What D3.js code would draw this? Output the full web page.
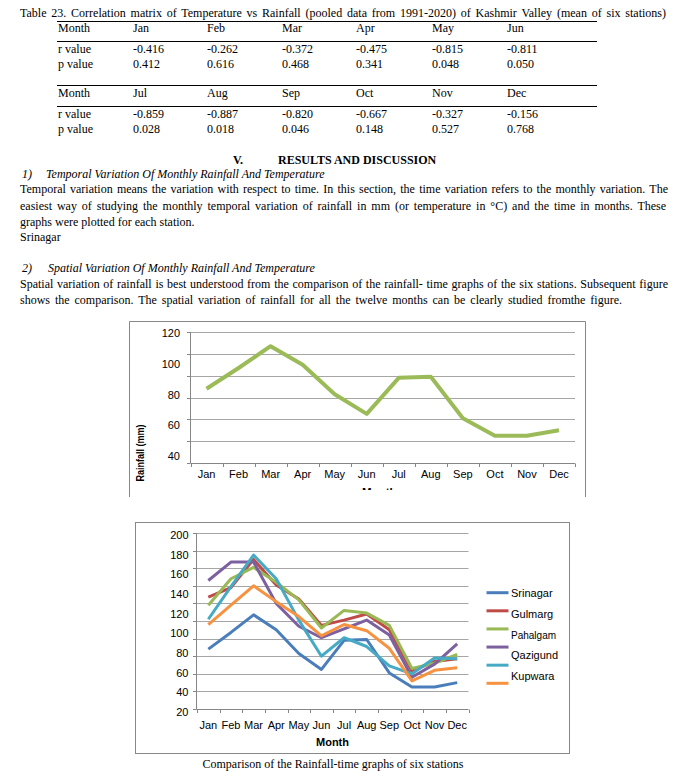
<!DOCTYPE html>
<html><head><meta charset="utf-8">
<script src="https://cdn.jsdelivr.net/npm/d3@7/dist/d3.min.js"></script>
<style>
html,body{margin:0;padding:0;background:#fff;}
svg text{font-family:"Liberation Serif","Times New Roman",serif;}
.sans{font-family:"Liberation Sans",Arial,sans-serif !important;}
</style>
</head><body>
<svg id="page" width="676" height="776"></svg>
<script>
// ---------- DATA ----------
const months = ["Jan","Feb","Mar","Apr","May","Jun","Jul","Aug","Sep","Oct","Nov","Dec"];
const tableMonths1 = ["Jan","Feb","Mar","Apr","May","Jun"];
const tableMonths2 = ["Jul","Aug","Sep","Oct","Nov","Dec"];
const rValues1 = ["-0.416","-0.262","-0.372","-0.475","-0.815","-0.811"];
const pValues1 = ["0.412","0.616","0.468","0.341","0.048","0.050"];
const rValues2 = ["-0.859","-0.887","-0.820","-0.667","-0.327","-0.156"];
const pValues2 = ["0.028","0.018","0.046","0.148","0.527","0.768"];

const srinagar = [88, 107, 127, 110, 83, 65, 98, 99, 61, 45, 45, 50];
const gulmarg  = [147, 158, 190, 161, 145, 115, 121, 128, 110, 63, 74, 77];
const pahalgam = [138, 168, 181, 164, 144, 112, 132, 129, 115, 66, 72, 82];
const qazigund = [166, 187, 187, 140, 114, 101, 111, 121, 104, 56, 71, 94];
const kupwara  = [122, 159, 195, 168, 121, 80, 101, 91, 69, 60, 78, 77];
const series6  = [116, 138, 160, 142, 125, 103, 116, 109, 89, 52, 64, 67];

const legendLabels = ["Srinagar","Gulmarg","Pahalgam","Qazigund","Kupwara"];
const seriesColors = ["#4A7EBB","#BE4B48","#98B954","#7D60A0","#46AAC5","#F69240"];

const chart1TickLabels = [40, 60, 80, 100, 120];
const chart1Grid = [20, 40, 60, 80, 100, 120, 140];
const chart2TickLabels = [20, 40, 60, 80, 100, 120, 140, 160, 180, 200];
const chart2Grid = [20, 40, 60, 80, 100, 120, 140, 160, 180, 200, 220];

// ---------- PAGE ----------
const svg = d3.select("#page");

function fit(el, width){
  const natural = el.node().getComputedTextLength();
  const t = el.text();
  const spaces = (t.match(/ /g) || []).length;
  if (spaces > 0) el.attr("word-spacing", ((width - natural) / spaces).toFixed(3));
  return el;
}

// Table
fit(svg.append("text").attr("x",20).attr("y",17).attr("font-size",12)
  .text("Table 23. Correlation matrix of Temperature vs Rainfall (pooled data from 1991-2020) of Kashmir Valley (mean of six stations)"), 646);

const colX = [58,133,207,282,356,432,507];
function tableBlock(topRule, headY, midRule, rY, pY, mths, rv, pv){
  svg.append("line").attr("x1",57).attr("x2",597).attr("y1",topRule).attr("y2",topRule).attr("stroke","#000").attr("stroke-width",1);
  svg.append("line").attr("x1",57).attr("x2",597).attr("y1",midRule).attr("y2",midRule).attr("stroke","#000").attr("stroke-width",1);
  const rows = [["Month"].concat(mths),["r value"].concat(rv),["p value"].concat(pv)];
  const ys = [headY,rY,pY];
  rows.forEach((row,ri)=>{
    row.forEach((t,ci)=>{
      svg.append("text").attr("x",colX[ci]).attr("y",ys[ri]).attr("font-size",12).text(t);
    });
  });
}
tableBlock(21.5, 32, 41.5, 53, 68, tableMonths1, rValues1, pValues1);
tableBlock(85.5, 97, 106.5, 118, 133, tableMonths2, rValues2, pValues2);

svg.append("text").attr("x",233).attr("y",164).attr("font-size",12).attr("font-weight","bold").text("V.");
svg.append("text").attr("x",278).attr("y",164).attr("font-size",12).attr("font-weight","bold").text("RESULTS AND DISCUSSION");

svg.append("text").attr("x",22).attr("y",178).attr("font-size",12).attr("font-style","italic").text("1)");
svg.append("text").attr("x",46).attr("y",178).attr("font-size",12).attr("font-style","italic").text("Temporal Variation Of Monthly Rainfall And Temperature");
function para(y, t, width){
  const el = svg.append("text").attr("x",20).attr("y",y).attr("font-size",12).text(t);
  if (width) fit(el, width);
}
para(193, "Temporal variation means the variation with respect to time. In this section, the time variation refers to the monthly variation. The", 648);
para(210, "easiest way of studying the monthly temporal variation of rainfall in mm (or temperature in \u00B0C) and the time in  months. These", 648);
para(226, "graphs were plotted for each station.", 0);
para(241, "Srinagar", 0);
svg.append("text").attr("x",22).attr("y",272).attr("font-size",12).attr("font-style","italic").text("2)");
svg.append("text").attr("x",48).attr("y",272).attr("font-size",12).attr("font-style","italic").text("Spatial Variation Of Monthly Rainfall And Temperature");
para(288, "Spatial variation of rainfall is best understood from the comparison of the rainfall- time graphs of the six stations. Subsequent figure", 648);
para(304, "shows the comparison. The spatial variation of rainfall for all the twelve months can be clearly studied fromthe figure.", 602);

// ---------- CHART 1 ----------
const c1 = svg.append("g");
const frameCol = "#888";
c1.append("path").attr("d","M129.5,497 V321.5 H585.5 V497").attr("fill","none").attr("stroke",frameCol).attr("stroke-width",1);

const x1 = d3.scaleBand().domain(months).range([190.5,575]);
const y1 = d3.scaleLinear().domain([20,140]).range([463,332]);
const y1Lab = d3.scaleLinear().domain([40,120]).range([456,333]);

c1.selectAll(".g1").data(chart1Grid.slice(1)).enter().append("line")
  .attr("x1",190.5).attr("x2",575).attr("y1",d=>Math.round(y1(d))+0.5).attr("y2",d=>Math.round(y1(d))+0.5)
  .attr("stroke","#a6a6a6").attr("stroke-width",1);
c1.append("line").attr("x1",190.5).attr("x2",190.5).attr("y1",332).attr("y2",463).attr("stroke","#868686");
c1.selectAll(".t1").data(chart1Grid).enter().append("line")
  .attr("x1",187).attr("x2",190.5).attr("y1",d=>Math.round(y1(d))+0.5).attr("y2",d=>Math.round(y1(d))+0.5).attr("stroke","#868686");
c1.append("line").attr("x1",190.5).attr("x2",575).attr("y1",463.5).attr("y2",463.5).attr("stroke","#868686");
d3.range(months.length+1).forEach(i=>{
  const xx = Math.round(x1.range()[0] + i*x1.step())+0.5;
  c1.append("line").attr("x1",xx).attr("x2",xx).attr("y1",463.5).attr("y2",467).attr("stroke","#868686");
});
c1.selectAll(".yl1").data(chart1TickLabels).enter().append("text").attr("class","sans")
  .attr("x",180).attr("y",d=>y1Lab(d)+4).attr("text-anchor","end").attr("font-size",11).attr("fill","#000").text(d=>d);
c1.selectAll(".xl1").data(months).enter().append("text").attr("class","sans")
  .attr("x",d=>x1(d)+x1.bandwidth()/2).attr("y",478).attr("text-anchor","middle").attr("font-size",11).text(d=>d);
c1.append("text").attr("class","sans").attr("transform","translate(144,453) rotate(-90)")
  .attr("text-anchor","middle").attr("font-size",10.5).attr("font-weight","bold").attr("textLength",57).attr("lengthAdjust","spacingAndGlyphs").text("Rainfall (mm)");
svg.append("defs").append("clipPath").attr("id","clipM").append("rect").attr("x",300).attr("y",470).attr("width",200).attr("height",20);
c1.append("text").attr("class","sans").attr("clip-path","url(#clipM)").attr("x",382.5).attr("y",496)
  .attr("text-anchor","middle").attr("font-size",11.5).attr("font-weight","bold").text("Months");
const line1 = d3.line().x((d,i)=>x1(months[i])+x1.bandwidth()/2).y(d=>y1(d));
c1.append("path").datum(srinagar).attr("d",line1).attr("fill","none").attr("stroke","#9BBB59")
  .attr("stroke-width",4).attr("stroke-linejoin","round").attr("stroke-linecap","butt");

// ---------- CHART 2 ----------
const c2 = svg.append("g");
c2.append("rect").attr("x",135.5).attr("y",522.5).attr("width",434).attr("height",231).attr("fill","none").attr("stroke",frameCol);
const x2 = d3.scaleBand().domain(months).range([197,468.5]);
const y2 = d3.scaleLinear().domain([20,220]).range([709,533]);
const y2Lab = d3.scaleLinear().domain([20,200]).range([712,535]);
c2.selectAll(".g2").data(chart2Grid.slice(1)).enter().append("line")
  .attr("x1",197).attr("x2",468.5).attr("y1",d=>Math.round(y2(d))+0.5).attr("y2",d=>Math.round(y2(d))+0.5)
  .attr("stroke","#a6a6a6");
c2.append("line").attr("x1",196.5).attr("x2",196.5).attr("y1",533).attr("y2",709).attr("stroke","#868686");
c2.selectAll(".t2").data(chart2Grid).enter().append("line")
  .attr("x1",193).attr("x2",196.5).attr("y1",d=>Math.round(y2(d))+0.5).attr("y2",d=>Math.round(y2(d))+0.5).attr("stroke","#868686");
c2.append("line").attr("x1",196.5).attr("x2",468.5).attr("y1",709.5).attr("y2",709.5).attr("stroke","#868686");
d3.range(months.length+1).forEach(i=>{
  const xx = Math.round(x2.range()[0] + i*x2.step())+0.5;
  c2.append("line").attr("x1",xx).attr("x2",xx).attr("y1",709.5).attr("y2",713).attr("stroke","#868686");
});
c2.selectAll(".yl2").data(chart2TickLabels).enter().append("text").attr("class","sans")
  .attr("x",188.5).attr("y",d=>y2Lab(d)+4).attr("text-anchor","end").attr("font-size",11).text(d=>d);
c2.selectAll(".xl2").data(months).enter().append("text").attr("class","sans")
  .attr("x",d=>x2(d)+x2.bandwidth()/2).attr("y",729).attr("text-anchor","middle").attr("font-size",11).text(d=>d);
c2.append("text").attr("class","sans").attr("x",332.5).attr("y",746).attr("text-anchor","middle")
  .attr("font-size",11).attr("font-weight","bold").text("Month");

const allSeries = [srinagar, gulmarg, pahalgam, qazigund, kupwara, series6];
const line2 = d3.line().x((d,i)=>x2(months[i])+x2.bandwidth()/2).y(d=>y2(d));
allSeries.forEach((s,i)=>{
  c2.append("path").datum(s).attr("d",line2).attr("fill","none").attr("stroke",seriesColors[i])
    .attr("stroke-width",3).attr("stroke-linejoin","round");
});
const legMarkY = d3.scaleLinear().domain([0,5]).range([592.7,683.3]);
const legTextY = d3.scaleLinear().domain([0,4]).range([593.3,676]);
seriesColors.forEach((c,i)=>{
  c2.append("line").attr("x1",486.5).attr("x2",508.5).attr("y1",legMarkY(i)).attr("y2",legMarkY(i))
    .attr("stroke",c).attr("stroke-width",3);
});
legendLabels.forEach((t,i)=>{
  c2.append("text").attr("class","sans").attr("x",511).attr("y",legTextY(i)+4).attr("font-size",i===2?10:11).text(t);
});

svg.append("text").attr("x",333).attr("y",768).attr("text-anchor","middle").attr("font-size",12)
  .text("Comparison of the Rainfall-time graphs of six stations");
</script>
</body></html>
